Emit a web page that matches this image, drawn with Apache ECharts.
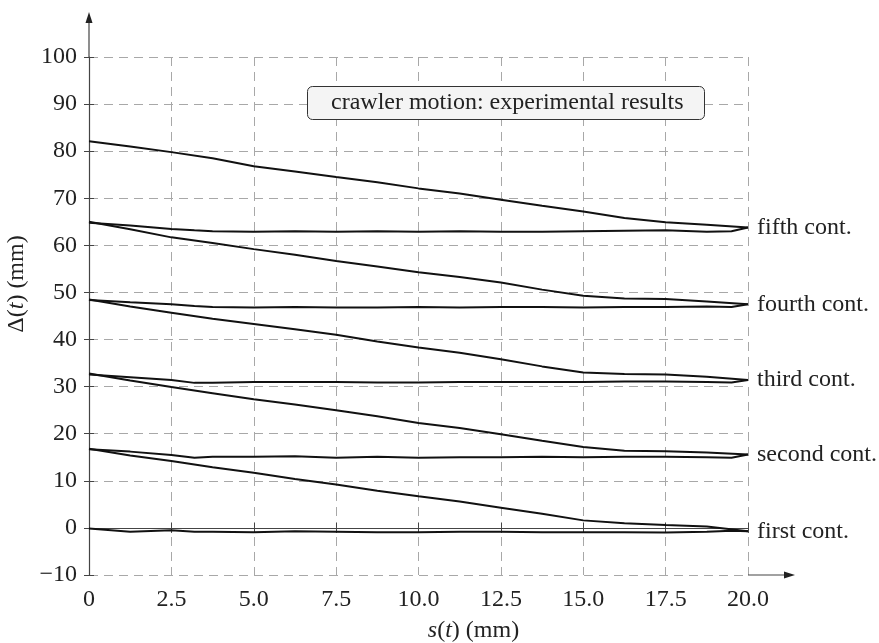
<!DOCTYPE html>
<html>
<head>
<meta charset="utf-8">
<script src="https://cdn.jsdelivr.net/npm/echarts@6/dist/echarts.min.js"></script>
<style>
  html, body { margin: 0; padding: 0; background: #fff; }
  #main { width: 879px; height: 643px; }
</style>
</head>
<body>
<div id="main"></div>
<script>
// sample positions along s(t) (mm)
var slantX = [0, 1.25, 2.5, 3.75, 5, 6.25, 7.5, 8.75, 10, 11.25, 12.5, 13.75, 15, 16.25, 17.5, 18.75, 20];
var flatX = [0, 1.25, 2.5, 3.2, 3.75, 5, 6.25, 7.5, 8.75, 10, 11.25, 12.5, 13.75, 15, 16.25, 17.5, 18.75, 19.5, 20];

// moving (sloped) traces, Δ(t) in mm
var fifthSlant  = [82.1, 81.0, 79.8, 78.5, 76.8, 75.7, 74.5, 73.4, 72.1, 71.0, 69.7, 68.4, 67.2, 65.8, 64.9, 64.4, 63.8];
var fourthSlant = [65.0, 63.4, 61.7, 60.5, 59.2, 58.0, 56.7, 55.5, 54.3, 53.3, 52.1, 50.6, 49.3, 48.7, 48.6, 48.1, 47.5];
var thirdSlant  = [48.5, 47.0, 45.7, 44.4, 43.3, 42.2, 41.0, 39.6, 38.3, 37.2, 35.8, 34.3, 33.0, 32.7, 32.6, 32.1, 31.4];
var secondSlant = [32.8, 31.3, 29.9, 28.6, 27.3, 26.2, 25.0, 23.7, 22.3, 21.2, 19.9, 18.5, 17.2, 16.4, 16.3, 16.0, 15.6];
var firstSlant  = [16.8, 15.4, 14.2, 12.9, 11.7, 10.4, 9.2, 7.9, 6.7, 5.6, 4.3, 3.0, 1.6, 1.0, 0.6, 0.3, -0.7];

// resting (flat) traces
var fifthFlat  = [64.8, 64.2, 63.5, 63.2, 63.0, 62.9, 63.0, 62.9, 63.0, 62.9, 63.0, 62.9, 62.9, 63.0, 63.1, 63.2, 62.9, 63.0, 63.8];
var fourthFlat = [48.4, 47.9, 47.5, 47.1, 46.9, 46.8, 46.9, 46.8, 46.8, 46.9, 46.8, 46.9, 46.9, 46.8, 46.9, 46.9, 47.0, 46.9, 47.5];
var thirdFlat  = [32.6, 32.0, 31.4, 30.8, 30.8, 31.0, 31.0, 31.0, 30.9, 30.9, 31.0, 31.0, 31.0, 31.0, 31.1, 31.1, 31.0, 30.9, 31.4];
var secondFlat = [16.7, 16.2, 15.5, 14.9, 15.1, 15.1, 15.2, 14.9, 15.1, 14.9, 15.0, 15.0, 15.1, 15.0, 15.1, 15.1, 15.0, 14.9, 15.6];
var firstFlat  = [-0.1, -0.8, -0.5, -0.8, -0.8, -0.9, -0.7, -0.8, -0.9, -0.9, -0.8, -0.8, -0.9, -0.9, -0.9, -1.0, -0.8, -0.6, -0.7];

var contNames = ['first cont.', 'second cont.', 'third cont.', 'fourth cont.', 'fifth cont.'];
var slantSets = [firstSlant, secondSlant, thirdSlant, fourthSlant, fifthSlant];
var flatSets = [firstFlat, secondFlat, thirdFlat, fourthFlat, fifthFlat];
var titleText = 'crawler motion: experimental results';

var FONT = '"Liberation Serif", "DejaVu Serif", serif';
var TXT = '#222';
var FS = 24;

function pairs(xs, ys) {
  var out = [];
  for (var i = 0; i < xs.length; i++) out.push([xs[i], ys[i]]);
  return out;
}

var series = [];
for (var k = 0; k < contNames.length; k++) {
  series.push({
    type: 'line', name: contNames[k] + ' slope', showSymbol: false, silent: true,
    lineStyle: { color: '#111', width: 2 },
    data: pairs(slantX, slantSets[k])
  });
  series.push({
    type: 'line', name: contNames[k], showSymbol: false, silent: true,
    lineStyle: { color: '#111', width: 2 },
    endLabel: {
      show: true, formatter: '{a}', distance: 9,
      fontFamily: FONT, fontSize: FS, color: TXT
    },
    data: pairs(flatX, flatSets[k])
  });
}

var italic = { fontFamily: FONT, fontSize: FS, fontStyle: 'italic', color: TXT };

var myChart = echarts.init(document.getElementById('main'));
var option = {
  animation: false,
  backgroundColor: '#fff',
  title: {
    text: titleText,
    left: 307, top: 86,
    padding: [5, 21, 5, 24],
    backgroundColor: '#f4f4f4',
    borderColor: '#333', borderWidth: 1, borderRadius: 5,
    textStyle: { fontFamily: FONT, fontSize: FS, fontWeight: 'normal', color: TXT }
  },
  grid: { left: 89, right: 131, top: 57, bottom: 68, outerBoundsMode: 'none', containLabel: false },
  xAxis: [{
    type: 'value', min: 0, max: 20, interval: 2.5,
    name: '{i|s}({i|t}) (mm)',
    nameLocation: 'middle', nameGap: 44,
    nameTextStyle: {
      fontFamily: FONT, fontSize: FS, color: TXT, padding: [0, 0, 0, 110],
      rich: { i: italic }
    },
    axisLine: { lineStyle: { color: '#444', width: 1.2 } },
    axisTick: { length: 5, lineStyle: { color: '#444' } },
    axisLabel: {
      margin: 13, fontFamily: FONT, fontSize: FS, color: TXT,
      formatter: function (v) { return v === 0 ? '0' : v.toFixed(1); }
    },
    splitLine: { show: true, lineStyle: { color: '#a8a8a8', type: [9, 6], width: 1 } }
  }, {
    type: 'value', min: 0, max: 20, interval: 2.5, position: 'bottom',
    axisLine: { show: false },
    axisTick: { inside: true, length: 5, lineStyle: { color: '#444' } },
    axisLabel: { show: false }, splitLine: { show: false }
  }],
  yAxis: [{
    type: 'value', min: -10, max: 100, interval: 10,
    name: 'Δ({i|t}) (mm)',
    nameLocation: 'middle', nameGap: 60, nameRotate: 90,
    nameTextStyle: {
      fontFamily: FONT, fontSize: FS, color: TXT, padding: [0, 0, 0, 64],
      rich: { i: italic }
    },
    axisLine: { show: true, lineStyle: { color: '#444', width: 1.2 } },
    axisTick: { show: true, length: 5, lineStyle: { color: '#444' } },
    axisLabel: {
      margin: 12, fontFamily: FONT, fontSize: FS, color: TXT,
      formatter: function (v) { return v < 0 ? '\u2212' + Math.abs(v) : String(v); }
    },
    splitLine: { show: true, lineStyle: { color: '#a8a8a8', type: [9, 6], width: 1 } }
  }, {
    type: 'value', min: -10, max: 100, interval: 10, position: 'left',
    axisLine: { show: false },
    axisTick: { show: true, inside: true, length: 5, lineStyle: { color: '#444' } },
    axisLabel: { show: false }, splitLine: { show: false }
  }],
  series: series
};
myChart.setOption(option);

// axis extensions with arrow heads beyond the plotted range
var origin = myChart.convertToPixel({ gridIndex: 0 }, [0, -10]);
var corner = myChart.convertToPixel({ gridIndex: 0 }, [20, 100]);
var xEnd = corner[0] + 47, yEnd = corner[1] - 45;
myChart.setOption({
  graphic: [
    { type: 'line', shape: { x1: corner[0], y1: origin[1], x2: xEnd - 8, y2: origin[1] },
      style: { stroke: '#444', lineWidth: 1.2 } },
    { type: 'polygon', shape: { points: [[xEnd, origin[1]], [xEnd - 11, origin[1] - 3.5], [xEnd - 11, origin[1] + 3.5]] },
      style: { fill: '#222' } },
    { type: 'line', shape: { x1: origin[0], y1: corner[1], x2: origin[0], y2: yEnd + 8 },
      style: { stroke: '#444', lineWidth: 1.2 } },
    { type: 'polygon', shape: { points: [[origin[0], yEnd], [origin[0] - 3.5, yEnd + 11], [origin[0] + 3.5, yEnd + 11]] },
      style: { fill: '#222' } }
  ]
});
</script>
</body>
</html>
